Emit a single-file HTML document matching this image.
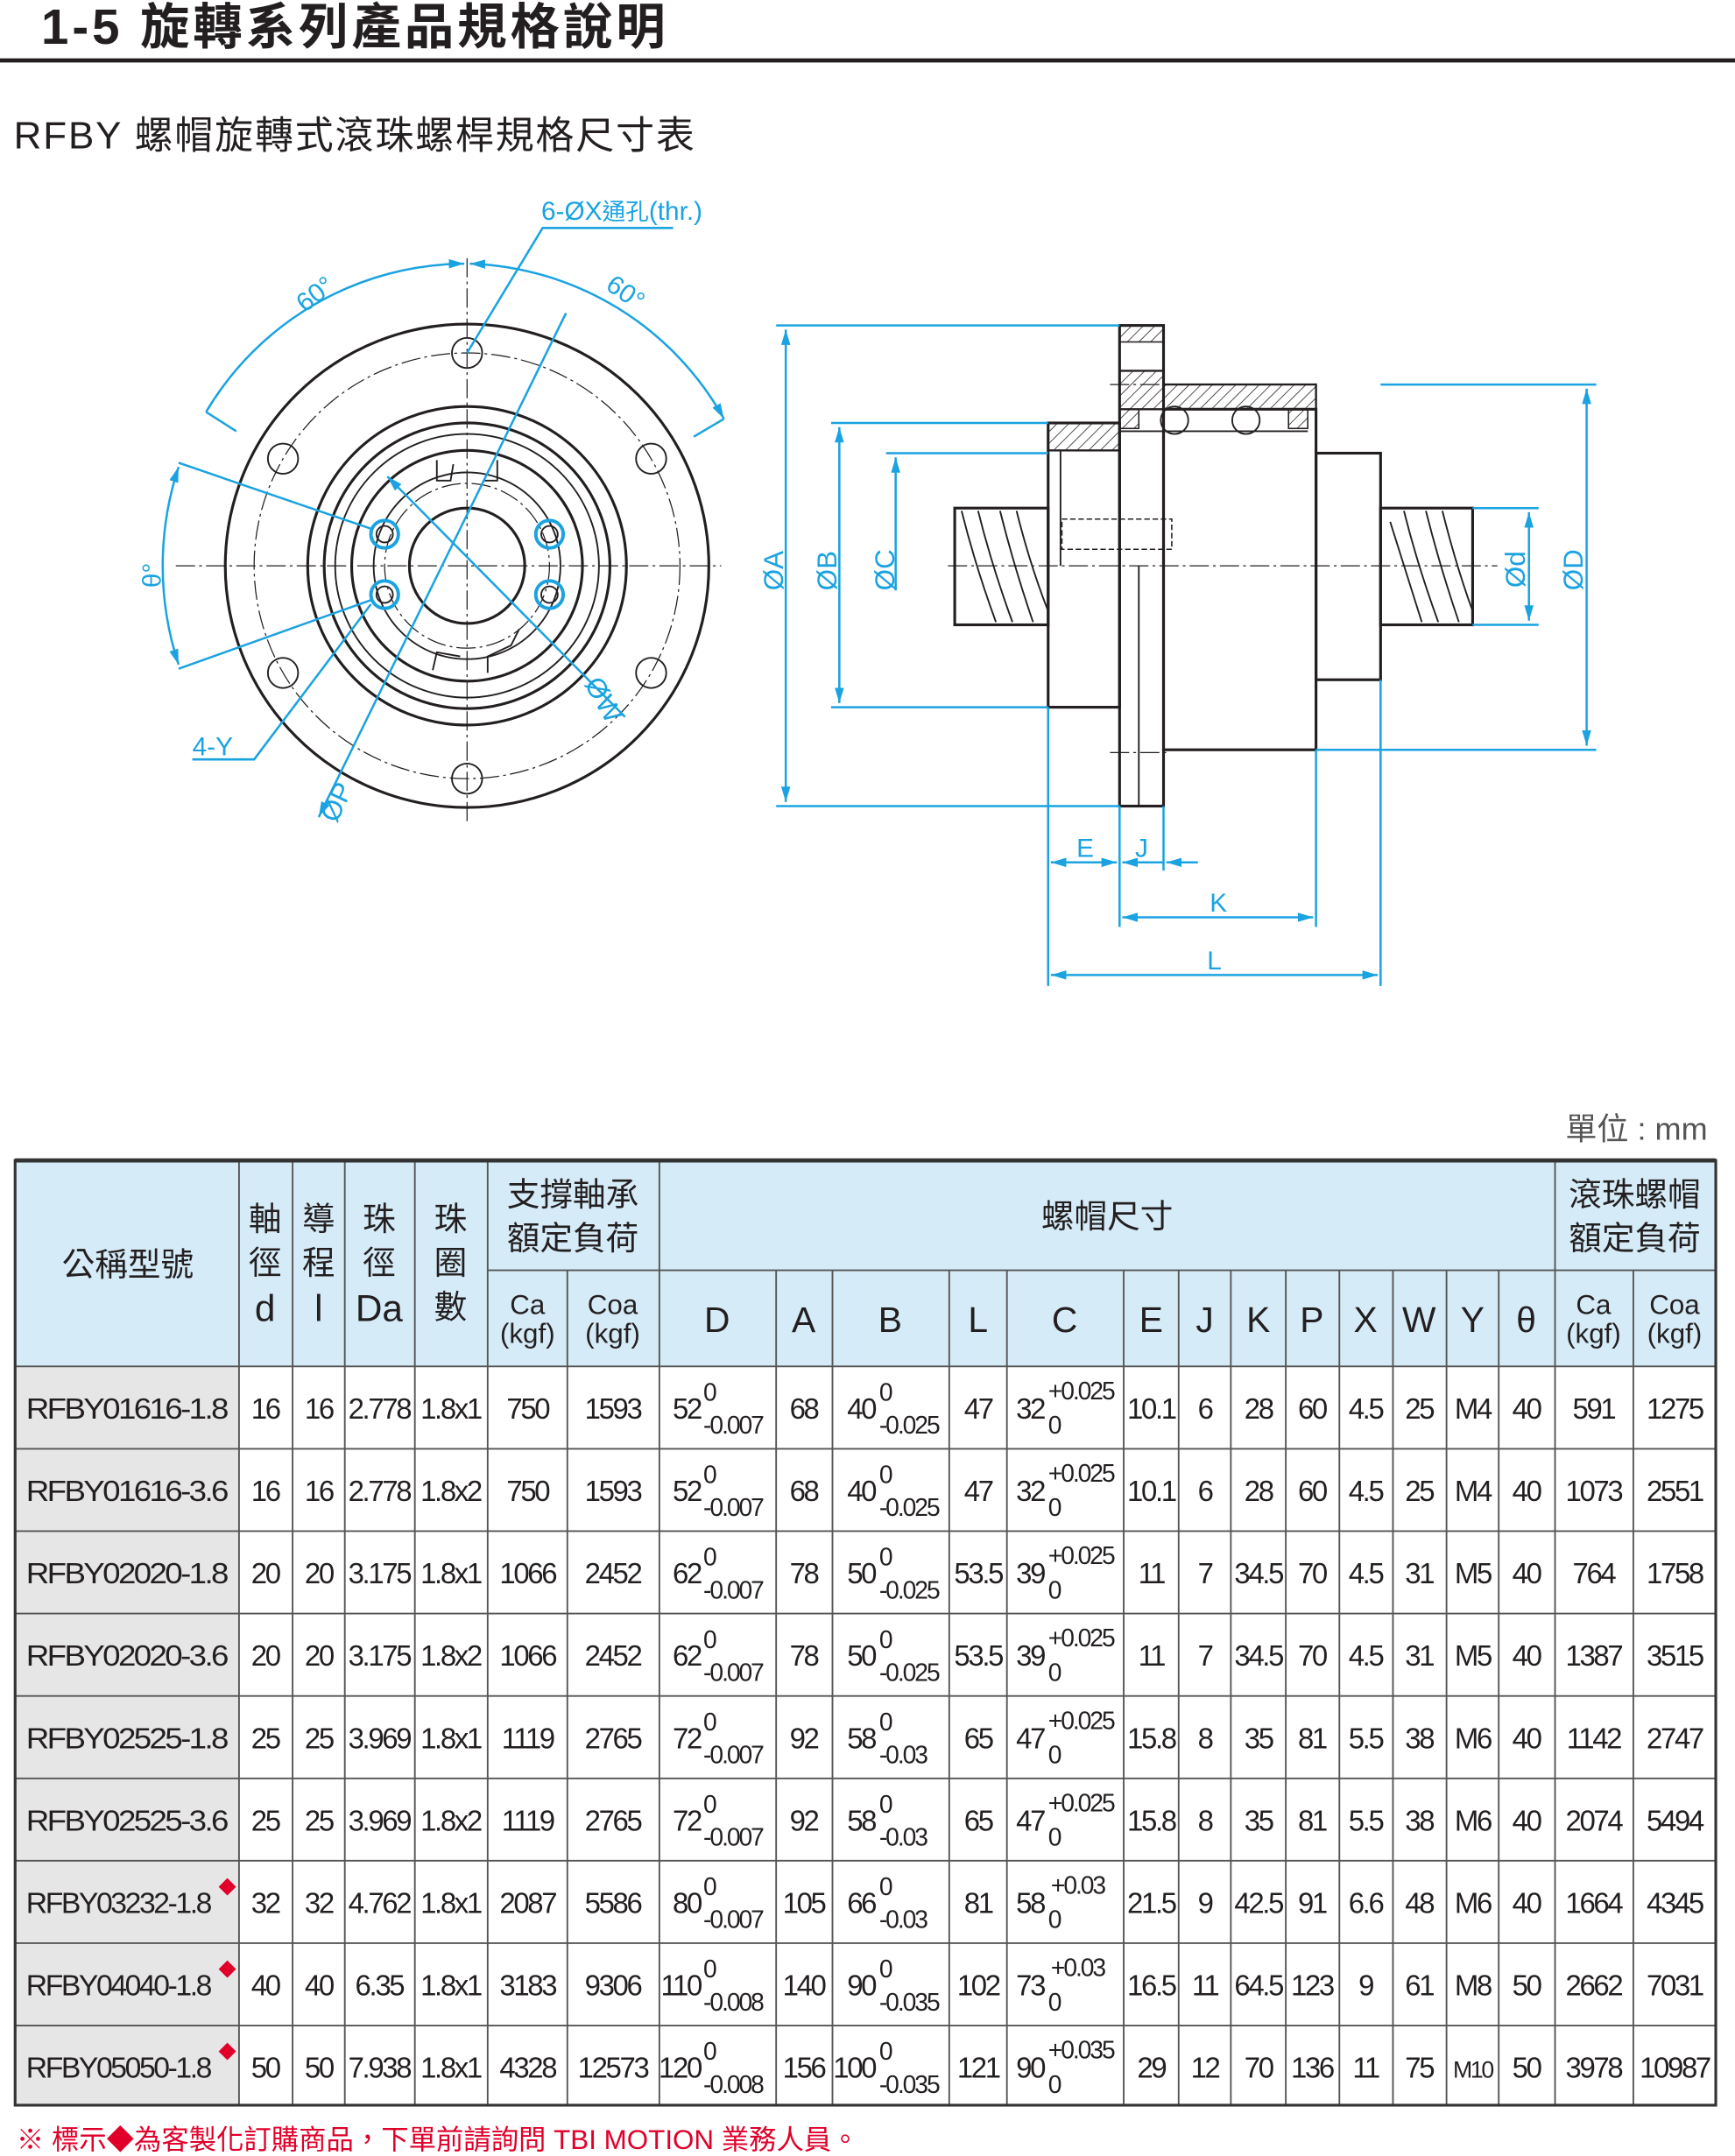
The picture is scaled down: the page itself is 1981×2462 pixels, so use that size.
<!DOCTYPE html>
<html><head><meta charset="utf-8"><style>
html,body{margin:0;padding:0;background:#fff}
svg{display:block}
text{font-family:"Liberation Sans","Noto Sans CJK TC",sans-serif;fill:#231f20}
.t{font-size:21px;text-anchor:middle;letter-spacing:-1.5px}
.tl{font-size:18px;letter-spacing:-1.3px}
.h{font-size:24px;text-anchor:middle}
.hs{font-size:20px;text-anchor:middle}
.b{fill:#1aa3e0}
.bl{stroke:#1aa3e0;stroke-width:1.6;fill:none}
.k{stroke:#231f20;stroke-width:2;fill:none}
.k1{stroke:#231f20;stroke-width:1.2;fill:none}
.cl{stroke:#231f20;stroke-width:.8;fill:none;stroke-dasharray:14 3 2 3}
.g{stroke:#555;stroke-width:1.2}
</style></head><body>
<svg width="1981" height="2462" viewBox="0 0 1263 1570" preserveAspectRatio="none" xmlns="http://www.w3.org/2000/svg">
<defs>
<marker id="ar" viewBox="0 0 10 10" refX="10" refY="5" markerWidth="7" markerHeight="7" orient="auto-start-reverse"><path d="M0,2 L10,5 L0,8 z" fill="#1aa3e0"/></marker>
<pattern id="hat" width="6" height="6" patternUnits="userSpaceOnUse" patternTransform="rotate(45)"><line x1="0" y1="0" x2="0" y2="6" stroke="#231f20" stroke-width="1"/></pattern>
</defs>
<!-- Title -->
<text x="30" y="32" style="font-size:36px;font-weight:bold;letter-spacing:2.5px">1-5 旋轉系列產品規格說明</text>
<line x1="0" y1="44" x2="1263" y2="44" stroke="#231f20" stroke-width="3"/>
<text x="10" y="108" style="font-size:28px;letter-spacing:1.2px">RFBY 螺帽旋轉式滾珠螺桿規格尺寸表</text>

<!-- Front view -->
<g>
<circle cx="340" cy="412" r="176" class="k"/>
<circle cx="340" cy="412" r="155" class="cl"/>
<circle cx="340" cy="412" r="116" class="k"/>
<circle cx="340" cy="412" r="104" class="k"/>
<circle cx="340" cy="412" r="96" class="k1"/>
<circle cx="340" cy="412" r="84" class="k"/>
<circle cx="340" cy="412" r="68" class="k1"/>
<circle cx="340" cy="412" r="60" class="cl"/>
<circle cx="340" cy="412" r="42" class="k"/>
<path d="M318,335 L318,350 L328,350 L330,338 M362,335 L362,350 L352,350 M355,490 L355,478 L372,470 L378,458 M315,488 L318,475 L335,478" class="k1"/>
<g class="k1">
<circle cx="340" cy="257" r="11"/><circle cx="206" cy="334" r="11"/><circle cx="474" cy="334" r="11"/>
<circle cx="206" cy="490" r="11"/><circle cx="474" cy="490" r="11"/><circle cx="340" cy="567" r="11"/>
</g>
<g stroke="#1aa3e0" stroke-width="2.5" fill="none">
<circle cx="280" cy="389" r="10"/><circle cx="400" cy="389" r="10"/><circle cx="280" cy="433" r="10"/><circle cx="400" cy="433" r="10"/>
</g>
<g class="k1"><circle cx="280" cy="389" r="6"/><circle cx="400" cy="389" r="6"/><circle cx="280" cy="433" r="6"/><circle cx="400" cy="433" r="6"/></g>
<line x1="128" y1="412" x2="525" y2="412" class="cl"/>
<line x1="340" y1="188" x2="340" y2="600" class="cl"/>
<path d="M150,300 A220,220 0 0 1 338,192" class="bl" marker-end="url(#ar)"/>
<path d="M342,192 A220,220 0 0 1 527,305" class="bl" marker-start="url(#ar)" marker-end="url(#ar)"/>
<line x1="150" y1="300" x2="172" y2="314" class="bl"/><line x1="527" y1="305" x2="505" y2="318" class="bl"/>
<text x="222" y="228" class="b" style="font-size:19px" transform="rotate(-38 222 228)">60°</text>
<text x="440" y="210" class="b" style="font-size:19px" transform="rotate(35 440 210)">60°</text>
<path d="M340,257 L395,166 L490,166" class="bl"/>
<text x="394" y="160" class="b" style="font-size:19px">6-ØX<tspan style="font-size:17px">通孔</tspan>(thr.)</text>
<line x1="130" y1="337" x2="270" y2="385" class="bl"/>
<line x1="130" y1="487" x2="270" y2="437" class="bl"/>
<path d="M130,340 A230,230 0 0 0 130,484" class="bl" marker-start="url(#ar)" marker-end="url(#ar)"/>
<text x="117" y="428" class="b" style="font-size:19px" transform="rotate(-90 117 428)">θ°</text>
<path d="M140,553 L185,553 L270,440" class="bl"/>
<text x="140" y="550" class="b" style="font-size:19px">4-Y</text>
<line x1="232" y1="595" x2="412" y2="228" class="bl" marker-start="url(#ar)"/>
<text x="245" y="600" class="b" style="font-size:20px" transform="rotate(-65 245 600)">ØP</text>
<line x1="282" y1="347" x2="455" y2="522" class="bl" marker-start="url(#ar)"/>
<text x="425" y="498" class="b" style="font-size:20px" transform="rotate(60 425 498)">ØW</text>
</g>

<!-- Side view -->
<g>
<line x1="690" y1="412" x2="1090" y2="412" class="cl"/>
<rect x="695" y="370" width="68" height="85" class="k"/>
<rect x="1005" y="370" width="67" height="85" class="k"/>
<g class="k1">
<path d="M700,372 Q710,412 725,453 M712,372 Q722,412 737,453 M728,372 Q738,412 752,453 M740,372 Q750,412 763,445"/>
<path d="M1012,380 Q1022,412 1035,453 M1022,372 Q1032,412 1047,453 M1038,372 Q1048,412 1062,453 M1050,372 Q1060,412 1072,445"/>
</g>
<rect x="763" y="308" width="52" height="207" class="k" fill="#fff"/>
<rect x="763" y="308" width="52" height="20" fill="url(#hat)" stroke="#231f20" stroke-width="1.5"/>
<line x1="772" y1="328" x2="772" y2="412" class="k1"/>
<rect x="815" y="237" width="32" height="350" class="k" fill="#fff"/>
<rect x="815" y="237" width="32" height="12" fill="url(#hat)" stroke="#231f20" stroke-width="1"/>
<path d="M815,270 L847,270 L847,280 L958,280 L958,298 L815,298 Z" fill="url(#hat)" stroke="#231f20" stroke-width="1.5"/>
<rect x="847" y="298" width="111" height="248" class="k" fill="#fff"/>
<rect x="815" y="298" width="14" height="14" fill="url(#hat)" stroke="#231f20"/>
<rect x="938" y="298" width="14" height="14" fill="url(#hat)" stroke="#231f20"/>
<line x1="815" y1="314" x2="952" y2="314" class="k1"/>
<circle cx="855" cy="306" r="10" fill="#fff" class="k1"/><circle cx="907" cy="306" r="10" fill="#fff" class="k1"/>
<rect x="958" y="330" width="47" height="165" class="k" fill="#fff"/>
<line x1="829" y1="412" x2="829" y2="587" class="k1"/>
<rect x="773" y="378" width="80" height="22" stroke="#231f20" stroke-width="1" fill="none" stroke-dasharray="4 2"/>
<line x1="808" y1="280" x2="850" y2="280" class="cl"/><line x1="808" y1="548" x2="850" y2="548" class="cl"/>
<line x1="565" y1="237" x2="815" y2="237" class="bl"/><line x1="565" y1="587" x2="815" y2="587" class="bl"/>
<line x1="572" y1="240" x2="572" y2="584" class="bl" marker-start="url(#ar)" marker-end="url(#ar)"/>
<line x1="605" y1="308" x2="763" y2="308" class="bl"/><line x1="605" y1="515" x2="763" y2="515" class="bl"/>
<line x1="611" y1="311" x2="611" y2="512" class="bl" marker-start="url(#ar)" marker-end="url(#ar)"/>
<line x1="645" y1="330" x2="763" y2="330" class="bl"/>
<line x1="652" y1="333" x2="652" y2="430" class="bl" marker-start="url(#ar)"/>
<line x1="1005" y1="280" x2="1162" y2="280" class="bl"/><line x1="958" y1="546" x2="1162" y2="546" class="bl"/>
<line x1="1155" y1="283" x2="1155" y2="543" class="bl" marker-start="url(#ar)" marker-end="url(#ar)"/>
<line x1="1072" y1="370" x2="1120" y2="370" class="bl"/><line x1="1072" y1="455" x2="1120" y2="455" class="bl"/>
<line x1="1113" y1="373" x2="1113" y2="452" class="bl" marker-start="url(#ar)" marker-end="url(#ar)"/>
<text x="570" y="430" class="b" style="font-size:20px" transform="rotate(-90 570 430)">ØA</text>
<text x="609" y="430" class="b" style="font-size:20px" transform="rotate(-90 609 430)">ØB</text>
<text x="651" y="430" class="b" style="font-size:20px" transform="rotate(-90 651 430)">ØC</text>
<text x="1110" y="428" class="b" style="font-size:20px" transform="rotate(-90 1110 428)">Ød</text>
<text x="1152" y="430" class="b" style="font-size:20px" transform="rotate(-90 1152 430)">ØD</text>
<line x1="763" y1="515" x2="763" y2="718" class="bl"/>
<line x1="815" y1="587" x2="815" y2="675" class="bl"/>
<line x1="847" y1="587" x2="847" y2="634" class="bl"/>
<line x1="958" y1="546" x2="958" y2="675" class="bl"/>
<line x1="1005" y1="495" x2="1005" y2="718" class="bl"/>
<line x1="765" y1="628" x2="813" y2="628" class="bl" marker-start="url(#ar)" marker-end="url(#ar)"/>
<line x1="817" y1="628" x2="847" y2="628" class="bl" marker-start="url(#ar)"/>
<line x1="849" y1="628" x2="872" y2="628" class="bl" marker-start="url(#ar)"/>
<text x="790" y="624" class="b" style="font-size:19px;text-anchor:middle">E</text>
<text x="831" y="624" class="b" style="font-size:19px;text-anchor:middle">J</text>
<line x1="817" y1="668" x2="956" y2="668" class="bl" marker-start="url(#ar)" marker-end="url(#ar)"/>
<text x="887" y="664" class="b" style="font-size:19px;text-anchor:middle">K</text>
<line x1="765" y1="710" x2="1003" y2="710" class="bl" marker-start="url(#ar)" marker-end="url(#ar)"/>
<text x="884" y="706" class="b" style="font-size:19px;text-anchor:middle">L</text>
</g>

<text x="1243" y="830" style="font-size:23px;text-anchor:end;fill:#555">單位 : mm</text>

<!-- Table -->
<rect x="11" y="845" width="1238" height="150" fill="#d5ebf7"/>
<rect x="11" y="995" width="163" height="538" fill="#e6e6e6"/>
<g class="g">
<line x1="11" y1="1055" x2="1249" y2="1055"/><line x1="11" y1="1115" x2="1249" y2="1115"/><line x1="11" y1="1175" x2="1249" y2="1175"/><line x1="11" y1="1235" x2="1249" y2="1235"/><line x1="11" y1="1295" x2="1249" y2="1295"/><line x1="11" y1="1355" x2="1249" y2="1355"/><line x1="11" y1="1415" x2="1249" y2="1415"/><line x1="11" y1="1475" x2="1249" y2="1475"/>
<line x1="11" y1="995" x2="1249" y2="995"/>
<line x1="355" y1="925" x2="1249" y2="925"/>
<line x1="174" y1="845" x2="174" y2="1533"/><line x1="213" y1="845" x2="213" y2="1533"/><line x1="251" y1="845" x2="251" y2="1533"/><line x1="302" y1="845" x2="302" y2="1533"/><line x1="355" y1="845" x2="355" y2="1533"/><line x1="480" y1="845" x2="480" y2="1533"/><line x1="1132" y1="845" x2="1132" y2="1533"/>
<line x1="413" y1="925" x2="413" y2="1533"/><line x1="565" y1="925" x2="565" y2="1533"/><line x1="606" y1="925" x2="606" y2="1533"/><line x1="691" y1="925" x2="691" y2="1533"/><line x1="733" y1="925" x2="733" y2="1533"/><line x1="818" y1="925" x2="818" y2="1533"/><line x1="858" y1="925" x2="858" y2="1533"/><line x1="896" y1="925" x2="896" y2="1533"/><line x1="936" y1="925" x2="936" y2="1533"/><line x1="975" y1="925" x2="975" y2="1533"/><line x1="1014" y1="925" x2="1014" y2="1533"/><line x1="1053" y1="925" x2="1053" y2="1533"/><line x1="1091" y1="925" x2="1091" y2="1533"/><line x1="1189" y1="925" x2="1189" y2="1533"/>
</g>
<rect x="11" y="845" width="1238" height="688" fill="none" stroke="#333" stroke-width="2"/>
<line x1="11" y1="845" x2="1249" y2="845" stroke="#333" stroke-width="3"/>

<g>
<text x="93" y="929" class="h">公稱型號</text>
<text x="193" y="896" class="h">軸</text><text x="193" y="928" class="h">徑</text><text x="193" y="962" class="h" style="font-size:27px">d</text>
<text x="232" y="896" class="h">導</text><text x="232" y="928" class="h">程</text><text x="232" y="962" class="h" style="font-size:27px">l</text>
<text x="276" y="896" class="h">珠</text><text x="276" y="928" class="h">徑</text><text x="276" y="962" class="h" style="font-size:27px">Da</text>
<text x="328" y="896" class="h">珠</text><text x="328" y="928" class="h">圈</text><text x="328" y="960" class="h">數</text>
<text x="417" y="878" class="h">支撐軸承</text><text x="417" y="910" class="h">額定負荷</text>
<text x="806" y="894" class="h">螺帽尺寸</text>
<text x="1190" y="878" class="h">滾珠螺帽</text><text x="1190" y="910" class="h">額定負荷</text>
<text x="384" y="957" class="hs">Ca</text><text x="384" y="978" class="hs">(kgf)</text>
<text x="446" y="957" class="hs">Coa</text><text x="446" y="978" class="hs">(kgf)</text>
<text x="1160" y="957" class="hs">Ca</text><text x="1160" y="978" class="hs">(kgf)</text>
<text x="1219" y="957" class="hs">Coa</text><text x="1219" y="978" class="hs">(kgf)</text>
<g style="font-size:26px;text-anchor:middle">
<text x="522" y="970">D</text><text x="585" y="970">A</text><text x="648" y="970">B</text><text x="712" y="970">L</text><text x="775" y="970">C</text><text x="838" y="970">E</text><text x="877" y="970">J</text><text x="916" y="970">K</text><text x="955" y="970">P</text><text x="994" y="970">X</text><text x="1033" y="970">W</text><text x="1072" y="970">Y</text><text x="1111" y="970">θ</text>
</g>
</g>

<g transform="translate(0,1025)">
<text x="92" y="8" class="t" textLength="146" lengthAdjust="spacingAndGlyphs">RFBY01616-1.8</text>
<text x="193" y="8" class="t">16</text><text x="232" y="8" class="t">16</text><text x="276" y="8" class="t">2.778</text><text x="328" y="8" class="t">1.8x1</text><text x="384" y="8" class="t">750</text><text x="446" y="8" class="t">1593</text>
<text x="510" y="8" class="t" style="text-anchor:end">52</text><text x="512" y="-5" class="tl">0</text><text x="512" y="19" class="tl">-0.007</text>
<text x="585" y="8" class="t">68</text>
<text x="637" y="8" class="t" style="text-anchor:end">40</text><text x="640" y="-5" class="tl">0</text><text x="640" y="19" class="tl">-0.025</text>
<text x="712" y="8" class="t">47</text>
<text x="760" y="8" class="t" style="text-anchor:end">32</text><text x="763" y="-6" class="tl">+0.025</text><text x="763" y="19" class="tl">0</text>
<text x="838" y="8" class="t">10.1</text><text x="877" y="8" class="t">6</text><text x="916" y="8" class="t">28</text><text x="955" y="8" class="t">60</text><text x="994" y="8" class="t">4.5</text><text x="1033" y="8" class="t">25</text><text x="1072" y="8" class="t">M4</text><text x="1111" y="8" class="t">40</text><text x="1160" y="8" class="t">591</text><text x="1219" y="8" class="t">1275</text>
</g>
<g transform="translate(0,1085)">
<text x="92" y="8" class="t" textLength="146" lengthAdjust="spacingAndGlyphs">RFBY01616-3.6</text>
<text x="193" y="8" class="t">16</text><text x="232" y="8" class="t">16</text><text x="276" y="8" class="t">2.778</text><text x="328" y="8" class="t">1.8x2</text><text x="384" y="8" class="t">750</text><text x="446" y="8" class="t">1593</text>
<text x="510" y="8" class="t" style="text-anchor:end">52</text><text x="512" y="-5" class="tl">0</text><text x="512" y="19" class="tl">-0.007</text>
<text x="585" y="8" class="t">68</text>
<text x="637" y="8" class="t" style="text-anchor:end">40</text><text x="640" y="-5" class="tl">0</text><text x="640" y="19" class="tl">-0.025</text>
<text x="712" y="8" class="t">47</text>
<text x="760" y="8" class="t" style="text-anchor:end">32</text><text x="763" y="-6" class="tl">+0.025</text><text x="763" y="19" class="tl">0</text>
<text x="838" y="8" class="t">10.1</text><text x="877" y="8" class="t">6</text><text x="916" y="8" class="t">28</text><text x="955" y="8" class="t">60</text><text x="994" y="8" class="t">4.5</text><text x="1033" y="8" class="t">25</text><text x="1072" y="8" class="t">M4</text><text x="1111" y="8" class="t">40</text><text x="1160" y="8" class="t">1073</text><text x="1219" y="8" class="t">2551</text>
</g>
<g transform="translate(0,1145)">
<text x="92" y="8" class="t" textLength="146" lengthAdjust="spacingAndGlyphs">RFBY02020-1.8</text>
<text x="193" y="8" class="t">20</text><text x="232" y="8" class="t">20</text><text x="276" y="8" class="t">3.175</text><text x="328" y="8" class="t">1.8x1</text><text x="384" y="8" class="t">1066</text><text x="446" y="8" class="t">2452</text>
<text x="510" y="8" class="t" style="text-anchor:end">62</text><text x="512" y="-5" class="tl">0</text><text x="512" y="19" class="tl">-0.007</text>
<text x="585" y="8" class="t">78</text>
<text x="637" y="8" class="t" style="text-anchor:end">50</text><text x="640" y="-5" class="tl">0</text><text x="640" y="19" class="tl">-0.025</text>
<text x="712" y="8" class="t">53.5</text>
<text x="760" y="8" class="t" style="text-anchor:end">39</text><text x="763" y="-6" class="tl">+0.025</text><text x="763" y="19" class="tl">0</text>
<text x="838" y="8" class="t">11</text><text x="877" y="8" class="t">7</text><text x="916" y="8" class="t">34.5</text><text x="955" y="8" class="t">70</text><text x="994" y="8" class="t">4.5</text><text x="1033" y="8" class="t">31</text><text x="1072" y="8" class="t">M5</text><text x="1111" y="8" class="t">40</text><text x="1160" y="8" class="t">764</text><text x="1219" y="8" class="t">1758</text>
</g>
<g transform="translate(0,1205)">
<text x="92" y="8" class="t" textLength="146" lengthAdjust="spacingAndGlyphs">RFBY02020-3.6</text>
<text x="193" y="8" class="t">20</text><text x="232" y="8" class="t">20</text><text x="276" y="8" class="t">3.175</text><text x="328" y="8" class="t">1.8x2</text><text x="384" y="8" class="t">1066</text><text x="446" y="8" class="t">2452</text>
<text x="510" y="8" class="t" style="text-anchor:end">62</text><text x="512" y="-5" class="tl">0</text><text x="512" y="19" class="tl">-0.007</text>
<text x="585" y="8" class="t">78</text>
<text x="637" y="8" class="t" style="text-anchor:end">50</text><text x="640" y="-5" class="tl">0</text><text x="640" y="19" class="tl">-0.025</text>
<text x="712" y="8" class="t">53.5</text>
<text x="760" y="8" class="t" style="text-anchor:end">39</text><text x="763" y="-6" class="tl">+0.025</text><text x="763" y="19" class="tl">0</text>
<text x="838" y="8" class="t">11</text><text x="877" y="8" class="t">7</text><text x="916" y="8" class="t">34.5</text><text x="955" y="8" class="t">70</text><text x="994" y="8" class="t">4.5</text><text x="1033" y="8" class="t">31</text><text x="1072" y="8" class="t">M5</text><text x="1111" y="8" class="t">40</text><text x="1160" y="8" class="t">1387</text><text x="1219" y="8" class="t">3515</text>
</g>
<g transform="translate(0,1265)">
<text x="92" y="8" class="t" textLength="146" lengthAdjust="spacingAndGlyphs">RFBY02525-1.8</text>
<text x="193" y="8" class="t">25</text><text x="232" y="8" class="t">25</text><text x="276" y="8" class="t">3.969</text><text x="328" y="8" class="t">1.8x1</text><text x="384" y="8" class="t">1119</text><text x="446" y="8" class="t">2765</text>
<text x="510" y="8" class="t" style="text-anchor:end">72</text><text x="512" y="-5" class="tl">0</text><text x="512" y="19" class="tl">-0.007</text>
<text x="585" y="8" class="t">92</text>
<text x="637" y="8" class="t" style="text-anchor:end">58</text><text x="640" y="-5" class="tl">0</text><text x="640" y="19" class="tl">-0.03</text>
<text x="712" y="8" class="t">65</text>
<text x="760" y="8" class="t" style="text-anchor:end">47</text><text x="763" y="-6" class="tl">+0.025</text><text x="763" y="19" class="tl">0</text>
<text x="838" y="8" class="t">15.8</text><text x="877" y="8" class="t">8</text><text x="916" y="8" class="t">35</text><text x="955" y="8" class="t">81</text><text x="994" y="8" class="t">5.5</text><text x="1033" y="8" class="t">38</text><text x="1072" y="8" class="t">M6</text><text x="1111" y="8" class="t">40</text><text x="1160" y="8" class="t">1142</text><text x="1219" y="8" class="t">2747</text>
</g>
<g transform="translate(0,1325)">
<text x="92" y="8" class="t" textLength="146" lengthAdjust="spacingAndGlyphs">RFBY02525-3.6</text>
<text x="193" y="8" class="t">25</text><text x="232" y="8" class="t">25</text><text x="276" y="8" class="t">3.969</text><text x="328" y="8" class="t">1.8x2</text><text x="384" y="8" class="t">1119</text><text x="446" y="8" class="t">2765</text>
<text x="510" y="8" class="t" style="text-anchor:end">72</text><text x="512" y="-5" class="tl">0</text><text x="512" y="19" class="tl">-0.007</text>
<text x="585" y="8" class="t">92</text>
<text x="637" y="8" class="t" style="text-anchor:end">58</text><text x="640" y="-5" class="tl">0</text><text x="640" y="19" class="tl">-0.03</text>
<text x="712" y="8" class="t">65</text>
<text x="760" y="8" class="t" style="text-anchor:end">47</text><text x="763" y="-6" class="tl">+0.025</text><text x="763" y="19" class="tl">0</text>
<text x="838" y="8" class="t">15.8</text><text x="877" y="8" class="t">8</text><text x="916" y="8" class="t">35</text><text x="955" y="8" class="t">81</text><text x="994" y="8" class="t">5.5</text><text x="1033" y="8" class="t">38</text><text x="1072" y="8" class="t">M6</text><text x="1111" y="8" class="t">40</text><text x="1160" y="8" class="t">2074</text><text x="1219" y="8" class="t">5494</text>
</g>
<g transform="translate(0,1385)">
<text x="86" y="8" class="t" textLength="134" lengthAdjust="spacingAndGlyphs">RFBY03232-1.8</text><text x="159" y="-6" style="font-size:13px;fill:#e0002a">◆</text>
<text x="193" y="8" class="t">32</text><text x="232" y="8" class="t">32</text><text x="276" y="8" class="t">4.762</text><text x="328" y="8" class="t">1.8x1</text><text x="384" y="8" class="t">2087</text><text x="446" y="8" class="t">5586</text>
<text x="510" y="8" class="t" style="text-anchor:end">80</text><text x="512" y="-5" class="tl">0</text><text x="512" y="19" class="tl">-0.007</text>
<text x="585" y="8" class="t">105</text>
<text x="637" y="8" class="t" style="text-anchor:end">66</text><text x="640" y="-5" class="tl">0</text><text x="640" y="19" class="tl">-0.03</text>
<text x="712" y="8" class="t">81</text>
<text x="760" y="8" class="t" style="text-anchor:end">58</text><text x="765" y="-6" class="tl">+0.03</text><text x="763" y="19" class="tl">0</text>
<text x="838" y="8" class="t">21.5</text><text x="877" y="8" class="t">9</text><text x="916" y="8" class="t">42.5</text><text x="955" y="8" class="t">91</text><text x="994" y="8" class="t">6.6</text><text x="1033" y="8" class="t">48</text><text x="1072" y="8" class="t">M6</text><text x="1111" y="8" class="t">40</text><text x="1160" y="8" class="t">1664</text><text x="1219" y="8" class="t">4345</text>
</g>
<g transform="translate(0,1445)">
<text x="86" y="8" class="t" textLength="134" lengthAdjust="spacingAndGlyphs">RFBY04040-1.8</text><text x="159" y="-6" style="font-size:13px;fill:#e0002a">◆</text>
<text x="193" y="8" class="t">40</text><text x="232" y="8" class="t">40</text><text x="276" y="8" class="t">6.35</text><text x="328" y="8" class="t">1.8x1</text><text x="384" y="8" class="t">3183</text><text x="446" y="8" class="t">9306</text>
<text x="510" y="8" class="t" style="text-anchor:end">110</text><text x="512" y="-5" class="tl">0</text><text x="512" y="19" class="tl">-0.008</text>
<text x="585" y="8" class="t">140</text>
<text x="637" y="8" class="t" style="text-anchor:end">90</text><text x="640" y="-5" class="tl">0</text><text x="640" y="19" class="tl">-0.035</text>
<text x="712" y="8" class="t">102</text>
<text x="760" y="8" class="t" style="text-anchor:end">73</text><text x="765" y="-6" class="tl">+0.03</text><text x="763" y="19" class="tl">0</text>
<text x="838" y="8" class="t">16.5</text><text x="877" y="8" class="t">11</text><text x="916" y="8" class="t">64.5</text><text x="955" y="8" class="t">123</text><text x="994" y="8" class="t">9</text><text x="1033" y="8" class="t">61</text><text x="1072" y="8" class="t">M8</text><text x="1111" y="8" class="t">50</text><text x="1160" y="8" class="t">2662</text><text x="1219" y="8" class="t">7031</text>
</g>
<g transform="translate(0,1505)">
<text x="86" y="8" class="t" textLength="134" lengthAdjust="spacingAndGlyphs">RFBY05050-1.8</text><text x="159" y="-6" style="font-size:13px;fill:#e0002a">◆</text>
<text x="193" y="8" class="t">50</text><text x="232" y="8" class="t">50</text><text x="276" y="8" class="t">7.938</text><text x="328" y="8" class="t">1.8x1</text><text x="384" y="8" class="t">4328</text><text x="446" y="8" class="t">12573</text>
<text x="510" y="8" class="t" style="text-anchor:end">120</text><text x="512" y="-5" class="tl">0</text><text x="512" y="19" class="tl">-0.008</text>
<text x="585" y="8" class="t">156</text>
<text x="637" y="8" class="t" style="text-anchor:end">100</text><text x="640" y="-5" class="tl">0</text><text x="640" y="19" class="tl">-0.035</text>
<text x="712" y="8" class="t">121</text>
<text x="760" y="8" class="t" style="text-anchor:end">90</text><text x="763" y="-6" class="tl">+0.035</text><text x="763" y="19" class="tl">0</text>
<text x="838" y="8" class="t">29</text><text x="877" y="8" class="t">12</text><text x="916" y="8" class="t">70</text><text x="955" y="8" class="t">136</text><text x="994" y="8" class="t">11</text><text x="1033" y="8" class="t">75</text><text x="1072" y="8" class="t" style="font-size:17px">M10</text><text x="1111" y="8" class="t">50</text><text x="1160" y="8" class="t">3978</text><text x="1219" y="8" class="t">10987</text>
</g>

<text x="12" y="1565" style="font-size:20px;fill:#e0002a">※ 標示◆為客製化訂購商品，下單前請詢問 TBI MOTION 業務人員。</text>
</svg>
</body></html>
